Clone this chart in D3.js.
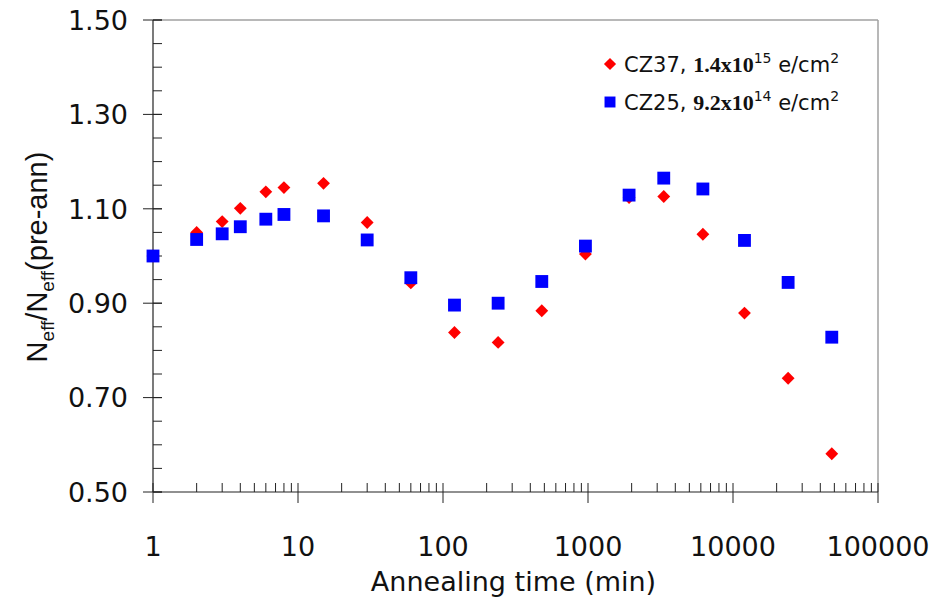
<!DOCTYPE html>
<html>
<head>
<meta charset="utf-8">
<script src="https://cdn.jsdelivr.net/npm/d3@7"></script>
<style>
  body { margin: 0; background: #fff; }
  svg { display: block; }
</style>
</head>
<body>
<div class="container"></div>
<script>
// annealing times (min)
const timesCZ37 = [1, 2, 3, 4, 6, 8, 15, 30, 60, 120, 240, 480, 960, 1920, 3330, 6200, 12000, 24000, 48000];
const valuesCZ37 = [1.00, 1.050, 1.073, 1.101, 1.136, 1.145, 1.154, 1.071, 0.943, 0.838, 0.817, 0.884, 1.004, 1.124, 1.126, 1.046, 0.879, 0.741, 0.581];
const timesCZ25 = [1, 2, 3, 4, 6, 8, 15, 30, 60, 120, 240, 480, 960, 1920, 3330, 6200, 12000, 24000, 48000];
const valuesCZ25 = [1.00, 1.035, 1.047, 1.062, 1.078, 1.088, 1.085, 1.034, 0.954, 0.896, 0.900, 0.946, 1.021, 1.129, 1.165, 1.142, 1.033, 0.944, 0.828];
const yTicks = [0.50, 0.70, 0.90, 1.10, 1.30, 1.50];
const xTicks = [1, 10, 100, 1000, 10000, 100000];

const W = 933, H = 598;
const margin = { top: 20, right: 55, bottom: 106, left: 153 };
const width = W - margin.left - margin.right;
const height = H - margin.top - margin.bottom;

const svg = d3.select(".container").append("svg")
    .attr("width", W)
    .attr("height", H);

const g = svg.append("g")
    .attr("transform", `translate(${margin.left},${margin.top})`);

const x = d3.scaleLog().domain([1, 100000]).range([0, width]);
const y = d3.scaleLinear().domain([0.5, 1.5]).range([height, 0]);

const tickFont = "'DejaVu Sans', Verdana, sans-serif";

// plot frame (top and right in grey)
g.append("line").attr("x1", 0).attr("x2", width).attr("y1", 0).attr("y2", 0)
    .attr("stroke", "#a0a0a0").attr("stroke-width", 1.5);
g.append("line").attr("x1", width).attr("x2", width).attr("y1", 0).attr("y2", height)
    .attr("stroke", "#a0a0a0").attr("stroke-width", 1.5);

// y axis
g.append("line").attr("x1", 0).attr("x2", 0).attr("y1", 0).attr("y2", height)
    .attr("stroke", "#222").attr("stroke-width", 1.2);
g.selectAll(".ymin").data(d3.range(0, 21).map(i => 0.5 + i * 0.05)).enter().append("line")
    .attr("x1", 0).attr("x2", 9)
    .attr("y1", d => y(d)).attr("y2", d => y(d))
    .attr("stroke", "#222");
g.selectAll(".ymaj").data(yTicks).enter().append("line")
    .attr("x1", -10).attr("x2", 9)
    .attr("y1", d => y(d)).attr("y2", d => y(d))
    .attr("stroke", "#222");
g.selectAll(".ylab").data(yTicks).enter().append("text")
    .attr("x", -25).attr("y", d => y(d))
    .attr("dy", "0.36em")
    .attr("text-anchor", "end")
    .attr("font-family", tickFont)
    .attr("font-size", 27)
    .attr("fill", "#111")
    .text(d => d3.format(".2f")(d));

// x axis
g.append("line").attr("x1", 0).attr("x2", width).attr("y1", height).attr("y2", height)
    .attr("stroke", "#222").attr("stroke-width", 1.2);
const xMinor = [];
for (let dec = 1; dec < 100000; dec *= 10) {
  for (let k = 2; k <= 9; k++) xMinor.push(dec * k);
}
g.selectAll(".xmin").data(xMinor).enter().append("line")
    .attr("x1", d => x(d)).attr("x2", d => x(d))
    .attr("y1", height - 9).attr("y2", height)
    .attr("stroke", "#222");
g.selectAll(".xmaj").data(xTicks).enter().append("line")
    .attr("x1", d => x(d)).attr("x2", d => x(d))
    .attr("y1", height - 9).attr("y2", height + 11)
    .attr("stroke", "#222");
g.selectAll(".xlab").data(xTicks).enter().append("text")
    .attr("x", d => x(d)).attr("y", height + 64)
    .attr("text-anchor", "middle")
    .attr("font-family", tickFont)
    .attr("font-size", 27)
    .attr("fill", "#111")
    .text(d => d);

// axis titles
svg.append("text")
    .attr("x", margin.left + x(Math.sqrt(100000)) - 2)
    .attr("y", 591)
    .attr("text-anchor", "middle")
    .attr("font-family", tickFont)
    .attr("font-size", 27)
    .attr("fill", "#111")
    .text("Annealing time (min)");

const yt = svg.append("text")
    .attr("transform", "translate(47,257) rotate(-90)")
    .attr("text-anchor", "middle")
    .attr("font-family", "'Liberation Sans', Arial, sans-serif")
    .attr("font-size", 29)
    .attr("fill", "#111");
yt.append("tspan").text("N");
yt.append("tspan").attr("font-size", 19).attr("dy", 7).text("eff");
yt.append("tspan").attr("dy", -7).text("/N");
yt.append("tspan").attr("font-size", 19).attr("dy", 7).text("eff");
yt.append("tspan").attr("dy", -7).text("(pre-ann)");

// markers
const diamond = d3.symbol().type(d3.symbolDiamond2).size(105);
const square = d3.symbol().type(d3.symbolSquare).size(165);

const red = timesCZ37.map((t, i) => ({ t, v: valuesCZ37[i] }));
const blue = timesCZ25.map((t, i) => ({ t, v: valuesCZ25[i] }));

g.selectAll(".cz37").data(red).enter().append("path")
    .attr("d", diamond)
    .attr("transform", d => `translate(${x(d.t)},${y(d.v)})`)
    .attr("fill", "#ff0000");

g.selectAll(".cz25").data(blue).enter().append("path")
    .attr("d", square)
    .attr("transform", d => `translate(${x(d.t)},${y(d.v)})`)
    .attr("fill", "#0000ff");

// legend
const legend = svg.append("g");
const legendItems = [
  { mark: "diamond", color: "#ff0000", name: "CZ37, ", num: "1.4x10", exp: "15" },
  { mark: "square", color: "#0000ff", name: "CZ25, ", num: "9.2x10", exp: "14" }
];
legendItems.forEach((it, i) => {
  const ly = 64 + i * 38;
  legend.append("path")
      .attr("d", it.mark === "diamond" ? d3.symbol().type(d3.symbolDiamond2).size(95)() : d3.symbol().type(d3.symbolSquare).size(120)())
      .attr("transform", `translate(610,${ly})`)
      .attr("fill", it.color);
  const t = legend.append("text")
      .attr("x", 624).attr("y", ly + 8)
      .attr("font-family", tickFont)
      .attr("font-size", 21)
      .attr("fill", "#111");
  t.append("tspan").text(it.name);
  t.append("tspan").attr("font-family", "'Liberation Serif', 'Times New Roman', serif").attr("font-size", 22).attr("font-weight", "bold").text(it.num);
  t.append("tspan").attr("font-size", 14).attr("dy", -9).text(it.exp);
  t.append("tspan").attr("dy", 9).text(" e/cm");
  t.append("tspan").attr("font-size", 14).attr("dy", -9).text("2");
});
</script>
</body>
</html>
